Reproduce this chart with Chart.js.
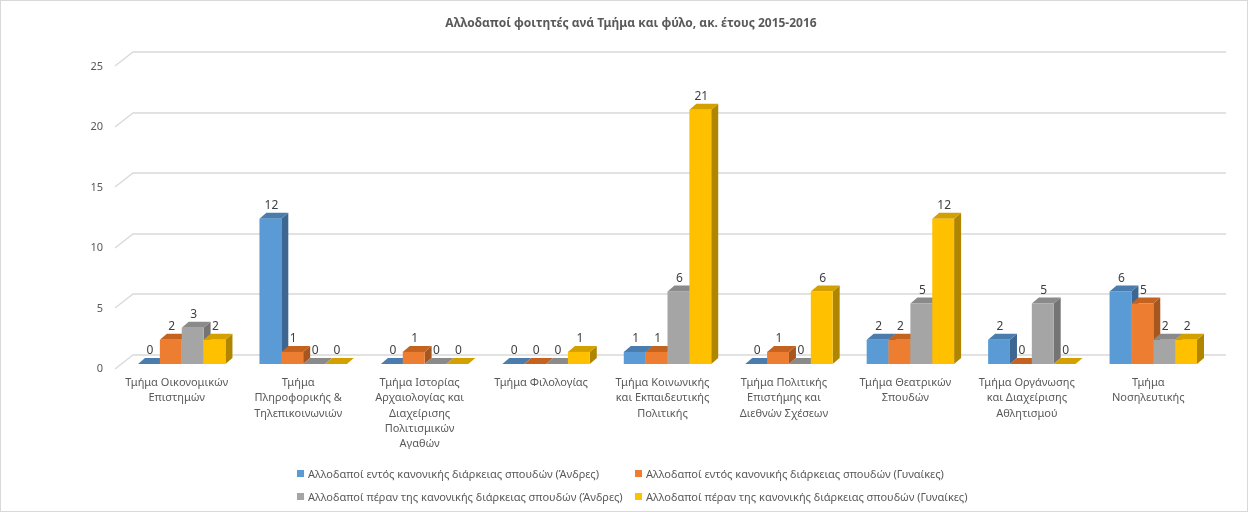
<!DOCTYPE html>
<html>
<head>
<meta charset="utf-8">
<script src="https://cdn.jsdelivr.net/npm/chart.js@4/dist/chart.umd.min.js"></script>
<style>
  html, body { margin: 0; padding: 0; background: #fff; }
  #wrap { position: relative; width: 1248px; height: 512px; box-sizing: border-box; border: 1px solid #d9d9d9; }
  #c { position: absolute; left: 0; top: 0; }
  #legend { position: absolute; left: 296px; top: 464px; display: grid; grid-template-columns: 338px auto; row-gap: 7px;
            font: 11px "Noto Sans", sans-serif; color: #595959; }
  .item { display: flex; align-items: center; height: 16px; white-space: nowrap; }
  .box { width: 7px; height: 7px; margin-right: 4px; }
</style>
</head>
<body>
<div id="wrap">
  <canvas id="c" width="1246" height="510"></canvas>
  <div id="legend"></div>
</div>
<script>
var categories = [
    ["Τμήμα Οικονομικών", "Επιστημών"],
    ["Τμήμα", "Πληροφορικής &", "Τηλεπικοινωνιών"],
    ["Τμήμα Ιστορίας", "Αρχαιολογίας και", "Διαχείρισης", "Πολιτισμικών", "Αγαθών"],
    ["Τμήμα Φιλολογίας"],
    ["Τμήμα Κοινωνικής", "και Εκπαιδευτικής", "Πολιτικής"],
    ["Τμήμα Πολιτικής", "Επιστήμης και", "Διεθνών Σχέσεων"],
    ["Τμήμα Θεατρικών", "Σπουδών"],
    ["Τμήμα Οργάνωσης", "και Διαχείρισης", "Αθλητισμού"],
    ["Τμήμα", "Νοσηλευτικής"]
];
var seriesNames = [
    "Αλλοδαποί εντός κανονικής διάρκειας σπουδών (Άνδρες)",
    "Αλλοδαποί εντός κανονικής διάρκειας σπουδών (Γυναίκες)",
    "Αλλοδαποί πέραν της κανονικής διάρκειας σπουδών (Άνδρες)",
    "Αλλοδαποί πέραν της κανονικής διάρκειας σπουδών (Γυναίκες)"
];
var menRegular   = [0, 12, 0, 0, 1, 0, 2, 2, 6];
var womenRegular = [2, 1, 1, 0, 1, 1, 2, 0, 5];
var menOver      = [3, 0, 0, 0, 6, 0, 5, 5, 2];
var womenOver    = [2, 0, 0, 1, 21, 6, 12, 0, 2];
var yTicks = [0, 5, 10, 15, 20, 25];

var frontColors = ["#5B9BD5", "#ED7D31", "#A5A5A5", "#FFC000"];
var topColors   = ["#4A7DAE", "#C4621F", "#8A8A8A", "#D4A000"];
var sideColors  = ["#3D6791", "#A6561F", "#747474", "#B08600"];
var depthX = 7, depthY = 6;

function poly(ctx, pts, color) {
    ctx.fillStyle = color;
    ctx.beginPath();
    ctx.moveTo(pts[0][0], pts[0][1]);
    for (var k = 1; k < pts.length; k++) ctx.lineTo(pts[k][0], pts[k][1]);
    ctx.closePath();
    ctx.fill();
}

// draws the back grid + the bars as 3D blocks instead of the flat bars
var bars3d = {
    id: 'bars3d',
    beforeDatasetsDraw: function(chart) {
        var ctx = chart.ctx;
        var area = chart.chartArea;
        var yScale = chart.scales.y;
        ctx.save();

        ctx.strokeStyle = "#d9d9d9";
        ctx.lineWidth = 1.3;
        yTicks.forEach(function(v) {
            var y = Math.round(yScale.getPixelForValue(v));
            ctx.beginPath();
            ctx.moveTo(area.left - 6, y + 5);
            ctx.lineTo(area.left + 12, y - 9);
            ctx.lineTo(area.right + 12, y - 9);
            ctx.stroke();
        });

        var n = chart.data.labels.length;
        for (var i = 0; i < n; i++) {
            chart.data.datasets.forEach(function(ds, d) {
                var el = chart.getDatasetMeta(d).data[i];
                var l = el.x - el.width / 2, r = el.x + el.width / 2;
                var t = el.y, b = el.base;
                if (b - t > 0.5) {
                    poly(ctx, [[r, t], [r + depthX, t - depthY], [r + depthX, b - depthY], [r, b]], sideColors[d]);
                }
                poly(ctx, [[l, t], [l + depthX, t - depthY], [r + depthX, t - depthY], [r, t]], topColors[d]);
                if (b - t > 0.5) {
                    ctx.fillStyle = frontColors[d];
                    ctx.fillRect(l, t, r - l, b - t);
                }
            });
        }

        ctx.fillStyle = "#404040";
        ctx.font = "12px 'Noto Sans'";
        ctx.textAlign = "center";
        ctx.textBaseline = "middle";
        for (var i = 0; i < n; i++) {
            chart.data.datasets.forEach(function(ds, d) {
                var el = chart.getDatasetMeta(d).data[i];
                ctx.fillText(String(ds.data[i]), el.x + 1, el.y - 13);
            });
        }
        ctx.restore();
        return false;
    }
};

var allSeries = [menRegular, womenRegular, menOver, womenOver];

var chart = new Chart(document.getElementById('c').getContext('2d'), {
    type: 'bar',
    data: {
        labels: categories,
        datasets: allSeries.map(function(vals, d) {
            return {
                label: seriesNames[d],
                data: vals,
                backgroundColor: frontColors[d],
                categoryPercentage: 0.72,
                barPercentage: 1.0
            };
        })
    },
    options: {
        responsive: false,
        animation: false,
        layout: { padding: { left: 14, right: 0, top: 0, bottom: 59 } },
        plugins: {
            legend: { display: false },
            tooltip: { enabled: false },
            title: {
                display: true,
                text: "Αλλοδαποί φοιτητές ανά Τμήμα και φύλο, ακ. έτους 2015-2016",
                color: "#595959",
                font: { family: "'Noto Sans'", size: 12, weight: 'bold' },
                padding: { top: 15, bottom: 31 }
            }
        },
        scales: {
            x: {
                grid: { display: false, drawTicks: false },
                border: { display: false },
                ticks: {
                    color: "#595959",
                    font: { family: "'Noto Sans'", size: 11, lineHeight: 1.4 },
                    maxRotation: 0,
                    autoSkip: false,
                    padding: 11,
                    labelOffset: -5
                },
                afterFit: function(s) { s.height = 88; }
            },
            y: {
                min: 0,
                max: 25,
                grid: { display: false, drawTicks: false },
                border: { display: false },
                ticks: {
                    stepSize: 5,
                    color: "#595959",
                    font: { family: "'Noto Sans'", size: 11 },
                    padding: 18,
                    labelOffset: 5
                },
                afterFit: function(s) { s.width = 106; }
            },
            // empty right-hand strip, keeps the plot clear of the right edge
            yRight: {
                position: 'right',
                grid: { display: false, drawTicks: false },
                border: { display: false },
                ticks: { display: false },
                afterFit: function(s) { s.width = 33; }
            }
        }
    },
    plugins: [bars3d]
});

// legend as a two column grid, like the original
var legend = document.getElementById('legend');
chart.data.datasets.forEach(function(ds) {
    var item = document.createElement('div');
    item.className = 'item';
    var box = document.createElement('span');
    box.className = 'box';
    box.style.background = ds.backgroundColor;
    item.appendChild(box);
    item.appendChild(document.createTextNode(ds.label));
    legend.appendChild(item);
});
</script>
</body>
</html>
